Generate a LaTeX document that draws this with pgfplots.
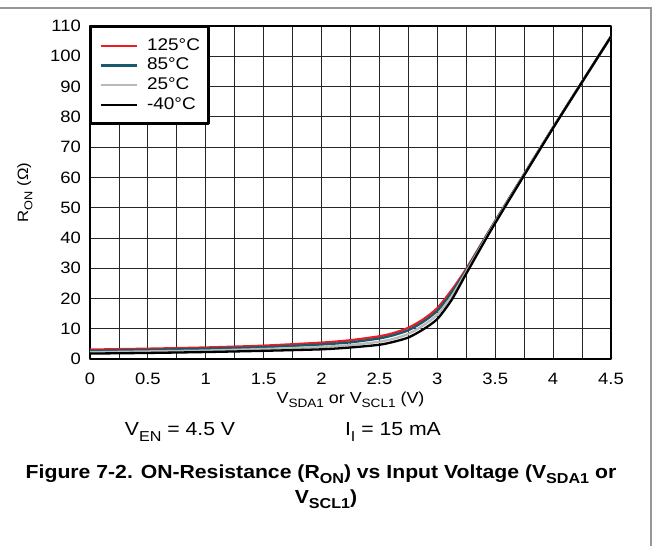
\documentclass[border=0pt]{standalone}
\usepackage{fontspec}
\setmainfont{Liberation Sans}[FakeStretch=1.12]
\usepackage{pgfplots}
\pgfplotsset{compat=1.18}
\definecolor{tired}{RGB}{237,28,36}
\definecolor{titeal}{RGB}{24,90,108}
\definecolor{tigray}{RGB}{185,185,185}
\definecolor{frame}{RGB}{150,150,150}
\newcommand{\sub}[1]{\raisebox{-0.28em}{\scalebox{0.76}{#1}}}
\begin{document}
\begin{tikzpicture}
\begin{axis}[
  at={(0bp,0bp)}, anchor=south west,
  width=521bp, height=333bp, scale only axis,
  xmin=0, xmax=4.5, ymin=0, ymax=110,
  xtick={0,0.5,1,1.5,2,2.5,3,3.5,4,4.5},
  xticklabels={0,0.5,1,1.5,2,2.5,3,3.5,4,4.5},
  minor x tick num=1,
  ytick={0,10,20,30,40,50,60,70,80,90,100,110},
  major tick length=0pt, minor tick length=0pt,
  grid=both,
  major grid style={draw=black!85, line width=0.8bp},
  minor grid style={draw=black!85, line width=0.8bp},
  axis line style={line width=2.5bp, black},
  /pgf/number format/assume math mode=true,
  tick label style={font=\fontsize{16.5}{18}\selectfont},
  yticklabel style={inner sep=0pt, xshift=-9bp},
  xticklabel style={inner sep=0pt, yshift=-14bp},
  xlabel={V\sub{SDA1} or V\sub{SCL1} (V)},
  xlabel style={at={(axis description cs:0.5,0)}, anchor=center, yshift=-41bp, font=\fontsize{16}{18}\selectfont},
  ylabel={R\sub{ON} (Ω)},
  ylabel style={at={(axis description cs:-0.1248,0.5)}, anchor=center, font=\fontsize{15}{17}\selectfont},
  legend cell align=left,
  legend image code/.code={\draw[#1, line width=2.3bp] (0bp,0bp) -- (36bp,0bp);},
  legend style={at={(0,1)}, anchor=north west, draw=black, line width=2.5bp, fill=white,
    font=\fontsize{17}{19}\selectfont,
    inner xsep=8.5bp, inner ysep=10.5bp,
    nodes={inner sep=0pt, text height=12.5bp, text depth=3.5bp},
    row sep=3.7bp,
    /tikz/every odd column/.append style={column sep=9bp}},
  line join=round,
]
\addplot[tired, line width=2.3bp, smooth, tension=0.4] coordinates {
(0,3.1)(0.5,3.4)(1,3.8)(1.5,4.4)(2,5.4)(2.25,6.2)(2.5,7.5)(2.625,8.6)(2.75,10.3)(2.875,13.0)(3.0,16.8)(3.125,22.8)(3.25,29.8)(3.5,45.6)(4.0,76.5)(4.5,106.5)};
\addlegendentry{125°C}
\addplot[titeal, line width=2.3bp, smooth, tension=0.4] coordinates {
(0,2.7)(0.5,3.0)(1,3.4)(1.5,3.9)(2,4.8)(2.25,5.5)(2.5,6.8)(2.625,7.9)(2.75,9.5)(2.875,12.2)(3.0,15.9)(3.125,22.0)(3.25,29.4)(3.5,45.5)(4.0,76.5)(4.5,106.5)};
\addlegendentry{85°C}
\addplot[tigray, line width=2.3bp, smooth, tension=0.4] coordinates {
(0,2.2)(0.5,2.5)(1,2.8)(1.5,3.3)(2,4.0)(2.25,4.6)(2.5,5.7)(2.625,6.7)(2.75,8.3)(2.875,11.0)(3.0,14.6)(3.125,20.8)(3.25,28.8)(3.5,45.2)(4.0,76.4)(4.5,106.5)};
\addlegendentry{25°C}
\addplot[black, line width=2.3bp, smooth, tension=0.4] coordinates {
(0,1.8)(0.5,2.0)(1,2.3)(1.5,2.7)(2,3.2)(2.25,3.8)(2.5,4.7)(2.625,5.7)(2.75,7.1)(2.875,9.7)(3.0,13.2)(3.125,19.6)(3.25,28.2)(3.5,44.9)(4.0,76.3)(4.5,106.5)};
\addlegendentry{-40°C}
\end{axis}
\node[anchor=center, font=\fontsize{19}{21}\selectfont] at (90bp,-73bp) {V\sub{EN} = 4.5 V};
\node[anchor=center, font=\fontsize{19}{21}\selectfont] at (303bp,-73bp) {I\sub{I} = 15 mA};
\node[anchor=base, font=\bfseries\fontsize{19}{21}\selectfont] at (231bp,-119bp) {Figure 7-2. ON-Resistance (R\sub{ON}) vs Input Voltage (V\sub{SDA1} or};
\node[anchor=base, font=\bfseries\fontsize{19}{21}\selectfont] at (236bp,-144bp) {V\sub{SCL1})};
\draw[frame, line width=1.5bp] (-90bp,351bp) -- (561bp,351bp) -- (561bp,-187bp);
\pgfresetboundingbox
\path[use as bounding box] (-90bp,-187bp) rectangle (564bp,359bp);
\end{tikzpicture}
\end{document}
